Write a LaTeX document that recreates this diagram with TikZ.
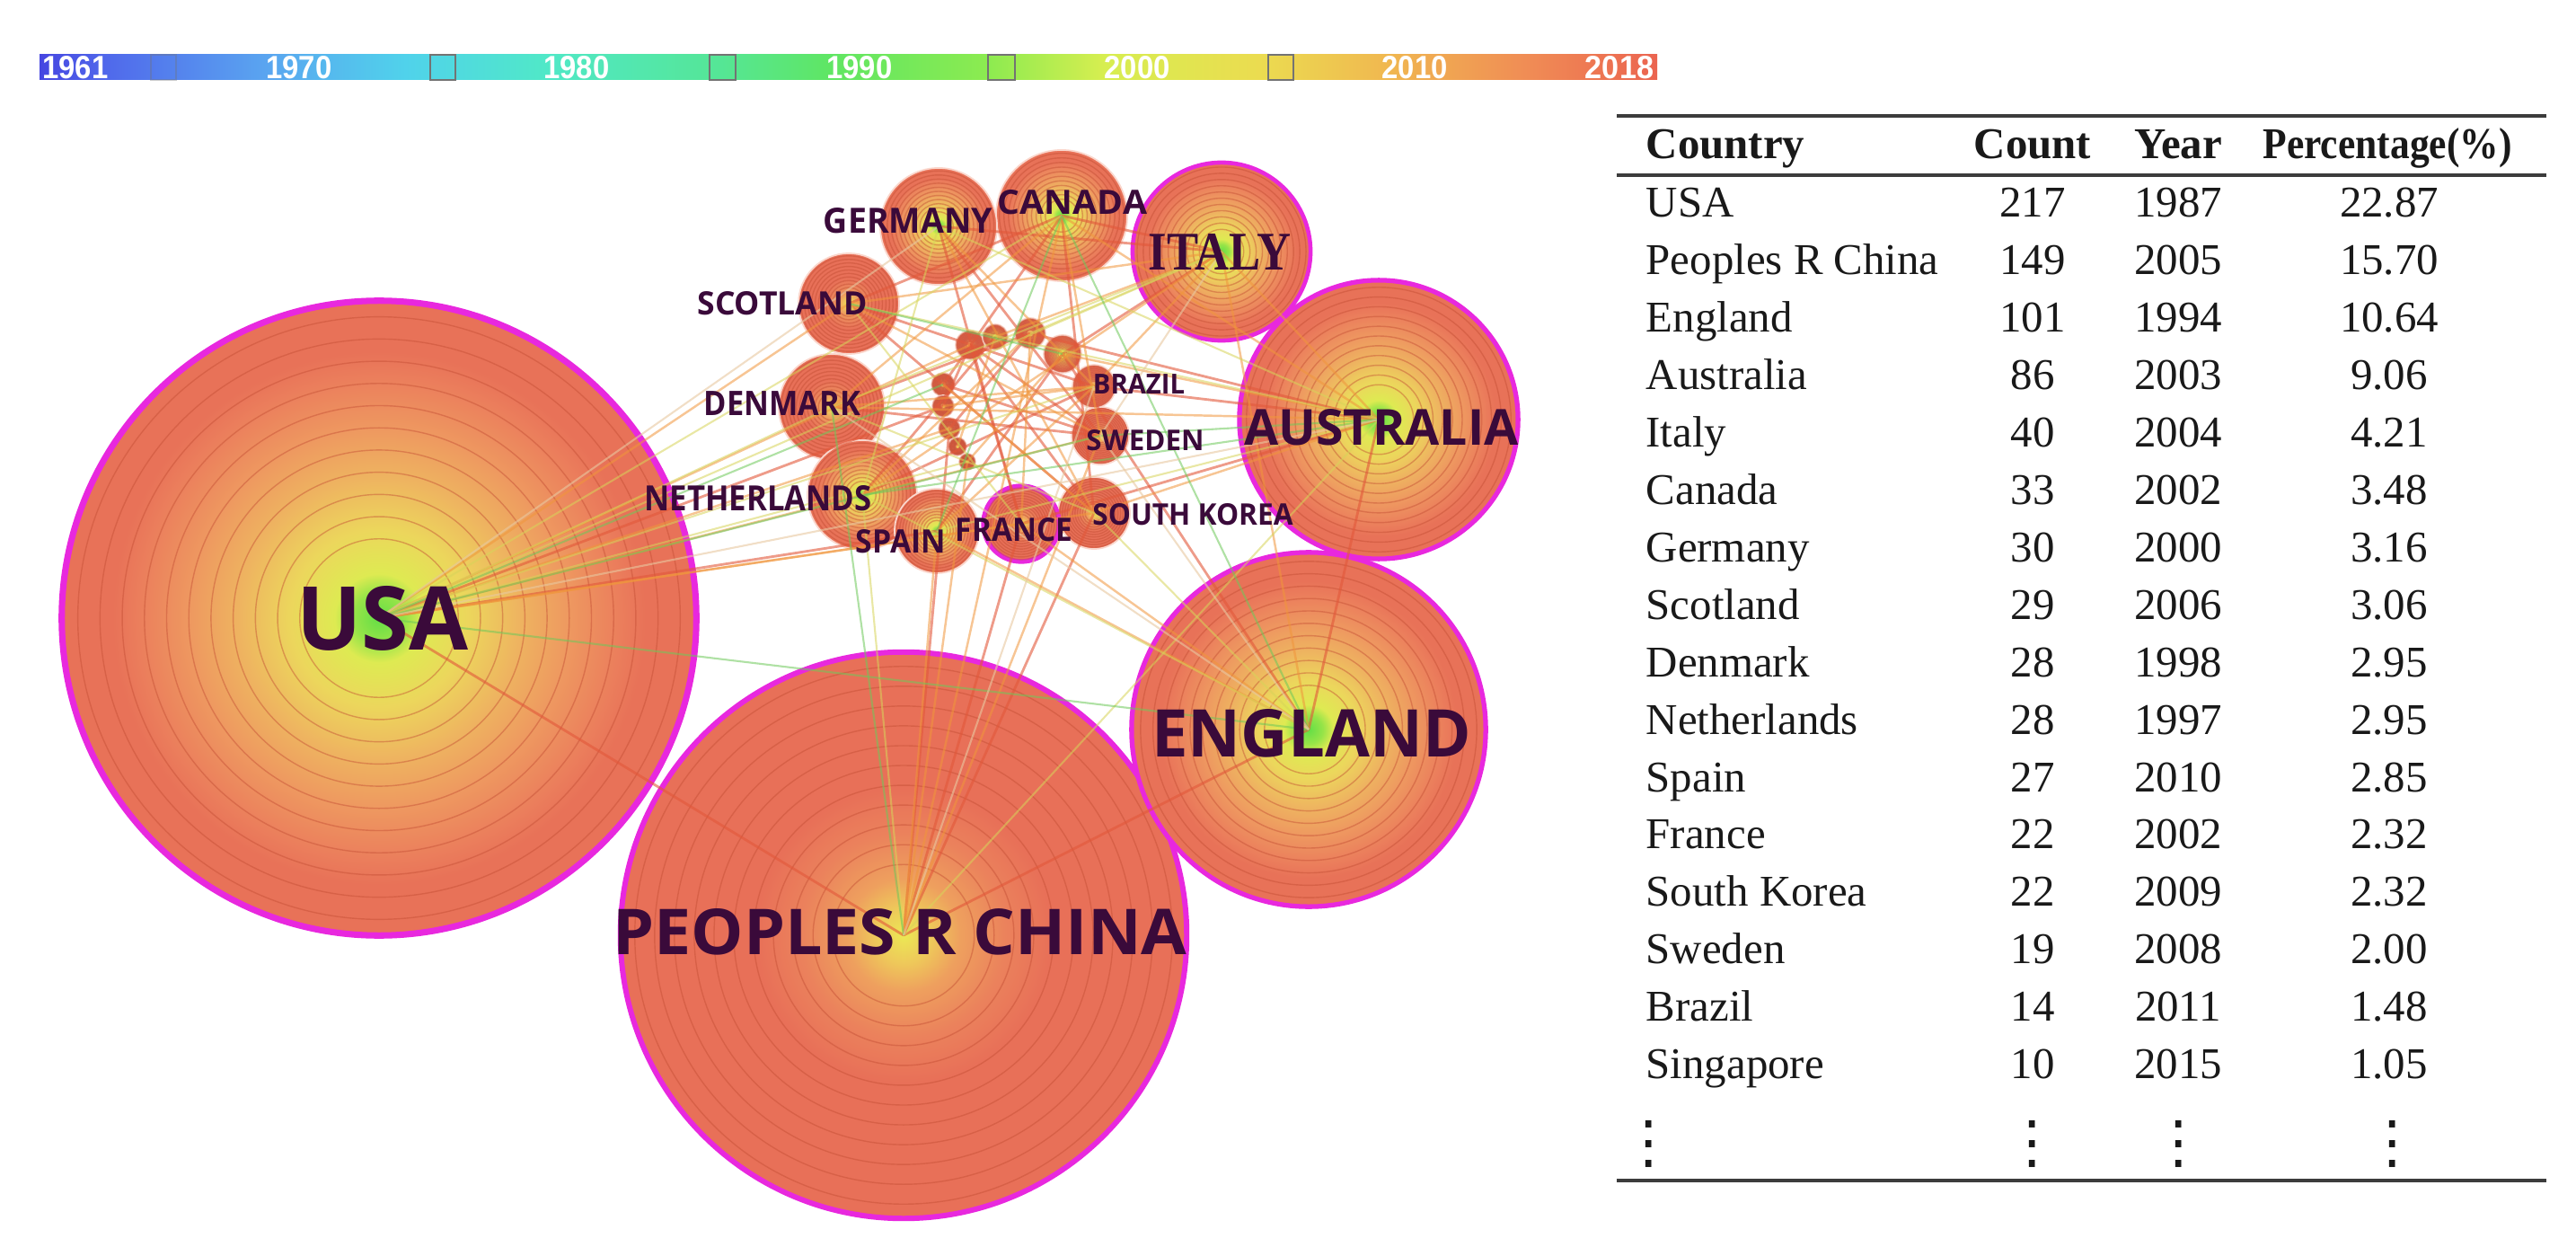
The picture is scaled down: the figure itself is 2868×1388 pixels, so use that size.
\documentclass[tikz,border=0pt]{standalone}
\usepackage{fontspec}
\usepackage{graphicx}
\setmainfont{Liberation Serif}
\newfontfamily\labfont{Open Sans}
\newfontfamily\italyfont{Liberation Serif}
\newfontfamily\barfont{Liberation Sans}
\newfontfamily\dotfont{DejaVu Sans}

\definecolor{labc}{RGB}{58,10,58}
\definecolor{tabc}{RGB}{25,25,25}
\definecolor{rulec}{RGB}{60,60,60}
\definecolor{hubmag}{RGB}{232,40,222}
\definecolor{ringc}{RGB}{196,78,52}
\definecolor{paleedge}{RGB}{250,215,205}
\definecolor{rA0}{RGB}{100,222,70}
\definecolor{rA1}{RGB}{150,228,72}
\definecolor{rA2}{RGB}{222,234,82}
\definecolor{rA3}{RGB}{236,214,92}
\definecolor{rA4}{RGB}{238,180,96}
\definecolor{rA5}{RGB}{238,152,96}
\definecolor{rA6}{RGB}{235,126,92}
\definecolor{rA7}{RGB}{232,114,88}
\definecolor{rB0}{RGB}{236,232,84}
\definecolor{rB1}{RGB}{238,200,90}
\definecolor{rB2}{RGB}{238,160,94}
\definecolor{rB3}{RGB}{235,130,92}
\definecolor{rB4}{RGB}{232,112,88}
\definecolor{edR}{RGB}{226,88,58}
\definecolor{edO}{RGB}{240,150,60}
\definecolor{edY}{RGB}{215,212,90}
\definecolor{edG}{RGB}{110,200,90}
\definecolor{edP}{RGB}{232,200,160}
\definecolor{yb0}{RGB}{70,70,225}
\definecolor{yb1}{RGB}{80,105,235}
\definecolor{yb2}{RGB}{90,165,240}
\definecolor{yb3}{RGB}{80,210,235}
\definecolor{yb4}{RGB}{80,232,200}
\definecolor{yb5}{RGB}{85,230,150}
\definecolor{yb6}{RGB}{95,230,100}
\definecolor{yb7}{RGB}{140,235,80}
\definecolor{yb8}{RGB}{215,238,80}
\definecolor{yb9}{RGB}{235,220,80}
\definecolor{yb10}{RGB}{240,185,80}
\definecolor{yb11}{RGB}{240,140,85}
\definecolor{yb12}{RGB}{235,100,80}

\pgfdeclareradialshading{ringA}{\pgfpointorigin}{color(0bp)=(rA0); color(2bp)=(rA1); color(3.5bp)=(rA2); color(7bp)=(rA3); color(11bp)=(rA4); color(15bp)=(rA5); color(19bp)=(rA6); color(21bp)=(rA7); color(50bp)=(rA7)}
\pgfdeclareradialshading{ringB}{\pgfpointorigin}{color(0bp)=(rB0); color(2.5bp)=(rB1); color(5bp)=(rB2); color(9bp)=(rB3); color(13bp)=(rB4); color(50bp)=(rB4)}
\pgfdeclarehorizontalshading{yearbar}{100bp}{color(0bp)=(yb0); color(25bp)=(yb0); color(27.1bp)=(yb1); color(32bp)=(yb2); color(36.3bp)=(yb3); color(40.6bp)=(yb4); color(46bp)=(yb5); color(49.4bp)=(yb6); color(54.3bp)=(yb7); color(57.9bp)=(yb8); color(62.7bp)=(yb9); color(66.5bp)=(yb10); color(71bp)=(yb11); color(75bp)=(yb12); color(100bp)=(yb12)}

\newcommand\placecountry[5]{%
  \node[cnode,#5,minimum size=#4*0.02cm] (#1) at (#2,#3) {};
  \foreach \f in {0.95,0.88,0.81,0.74,0.67,0.6,0.53,0.46,0.39,0.32,0.25}
    \draw[ringline] (#1.center) circle[radius=\f*#4*0.01cm];
}
\newcommand\clabel[6]{\node[lab] (#1) at (#2,#3) {\resizebox{#4}{#5}{#6}};}
\newcommand\tdots{\resizebox{!}{0.46cm}{\dotfont ⋮}}

\begin{document}
\begin{tikzpicture}[x=0.01cm,y=-0.01cm,
  cnode/.style={circle,inner sep=0pt,outer sep=0pt},
  hubA/.style={shading=ringA,draw=hubmag,line width=#1},
  hubB/.style={shading=ringB,draw=hubmag,line width=#1},
  smallA/.style={shading=ringA,draw=paleedge,line width=0.5pt},
  smallB/.style={shading=ringB,draw=paleedge,line width=0.5pt},
  ringline/.style={draw=ringc,line width=0.4pt,opacity=0.45},
  lab/.style={text=labc,inner sep=0pt,font=\labfont\bfseries},
  ylab/.style={text=white,inner sep=0pt,font=\barfont\bfseries},
  tab/.style={inner sep=0pt,text=tabc,font=\fontsize{13.9}{16}\selectfont},
  rulel/.style={draw=rulec,line width=0.9pt},
  sq/.style={draw=black!55,line width=0.5pt},
  eR/.style={draw=edR,line width=0.8pt,opacity=0.6},
  eO/.style={draw=edO,line width=0.7pt,opacity=0.55},
  eY/.style={draw=edY,line width=0.6pt,opacity=0.55},
  eG/.style={draw=edG,line width=0.6pt,opacity=0.55},
  eP/.style={draw=edP,line width=0.6pt,opacity=0.6}]
\useasboundingbox (0,0) rectangle (2868,1388);

% ---------- year bar ----------
\shade[shading=yearbar] (44,61) rectangle (1845,89);
\draw[sq,opacity=0.35] (168,61) rectangle (196,89);
\draw[sq] (479,61) rectangle (507,89);
\draw[sq] (790,61) rectangle (819,89);
\draw[sq] (1100,61) rectangle (1130,89);
\draw[sq] (1412,61) rectangle (1440,89);
\node[ylab] (y1961) at (84,75) {\resizebox{0.73cm}{0.25cm}{1961}};
\node[ylab] (y1970) at (333,75) {\resizebox{0.73cm}{0.25cm}{1970}};
\node[ylab] (y1980) at (642,75) {\resizebox{0.73cm}{0.25cm}{1980}};
\node[ylab] (y1990) at (957,75) {\resizebox{0.73cm}{0.25cm}{1990}};
\node[ylab] (y2000) at (1266,75) {\resizebox{0.73cm}{0.25cm}{2000}};
\node[ylab] (y2010) at (1575,75) {\resizebox{0.73cm}{0.25cm}{2010}};
\node[ylab] (y2018) at (1803,75) {\resizebox{0.76cm}{0.25cm}{2018}};

% ---------- country circles ----------
\placecountry{usa}{422}{688}{353}{hubA=2pt}
\placecountry{china}{1006}{1041}{315}{hubB=1.7pt}
\placecountry{england}{1457}{812}{197}{hubA=1.5pt}
\placecountry{australia}{1535}{467}{155}{hubA=1.5pt}
\placecountry{italy}{1360}{280}{99}{hubA=1.3pt}
\placecountry{canada}{1182}{240}{73}{smallA}
\placecountry{germany}{1045}{252}{65}{smallA}
\placecountry{scotland}{945}{338}{56}{smallB}
\placecountry{denmark}{926}{453}{59}{smallB}
\placecountry{netherlands}{960}{551}{61}{smallA}
\placecountry{spain}{1043}{591}{47}{smallA}
\placecountry{skorea}{1218}{571}{40}{smallB}
\placecountry{france}{1137}{583}{42}{hubB=1.5pt}
\placecountry{sweden}{1225}{485}{32}{smallB}
\placecountry{brazil}{1218}{430}{24}{smallB}
\placecountry{sa}{1080}{384}{16}{smallB}
\placecountry{sb}{1108}{375}{14}{smallA}
\placecountry{sc}{1147}{371}{17}{smallB}
\placecountry{sd}{1183}{394}{21}{smallA}
\placecountry{se}{1050}{428}{13}{smallB}
\placecountry{sf}{1050}{452}{12}{smallB}
\placecountry{sg}{1057}{477}{12}{smallB}
\placecountry{sh}{1066}{497}{10}{smallB}
\placecountry{si}{1077}{514}{9}{smallB}

% ---------- links ----------
\foreach \a/\b in {usa/spain,usa/china,usa/sf,china/france,china/skorea,china/sg,china/england,
  england/australia,england/sd,australia/brazil,australia/sc,australia/france,italy/germany,
  italy/canada,italy/sd,canada/scotland,canada/se,canada/skorea,germany/sweden,germany/france,
  scotland/brazil,scotland/skorea,denmark/sc,denmark/sweden,netherlands/brazil,netherlands/sb,
  spain/sd,france/sa,skorea/sa,sweden/sa,sweden/se,sa/sf,sc/sg}
  \draw[eR] (\a.center) -- (\b.center);
\foreach \a/\b in {usa/scotland,usa/netherlands,usa/france,usa/sa,usa/sg,usa/skorea,
  china/spain,china/sweden,china/si,china/canada,england/france,england/italy,england/spain,
  australia/italy,australia/canada,australia/sd,australia/denmark,australia/skorea,italy/scotland,
  italy/sb,italy/brazil,italy/netherlands,canada/denmark,canada/sweden,germany/brazil,
  germany/skorea,scotland/sweden,denmark/brazil,netherlands/sc,netherlands/sweden,spain/brazil,
  france/sc,skorea/se,brazil/sf,sb/sh,sd/si}
  \draw[eO] (\a.center) -- (\b.center);
\foreach \a/\b in {usa/denmark,usa/canada,usa/si,usa/brazil,usa/italy,china/netherlands,
  china/australia,england/skorea,england/netherlands,australia/germany,australia/scotland,
  australia/spain,italy/sc,italy/denmark,germany/netherlands,denmark/skorea,france/scotland}
  \draw[eY] (\a.center) -- (\b.center);
\foreach \a/\b in {usa/se,usa/sweden,usa/england,china/denmark,england/canada,
  australia/sweden,australia/netherlands,canada/spain,scotland/sd}
  \draw[eG] (\a.center) -- (\b.center);
\foreach \a/\b in {usa/germany,usa/australia,china/brazil,england/sweden,england/denmark,italy/sweden}
  \draw[eP] (\a.center) -- (\b.center);

% ---------- country labels ----------
\clabel{lusa}{426}{688}{1.91cm}{0.71cm}{USA}
\clabel{lchina}{1002}{1037}{6.39cm}{0.51cm}{PEOPLES R CHINA}
\clabel{lengland}{1460}{816}{3.55cm}{0.53cm}{ENGLAND}
\clabel{laustralia}{1538}{476}{3.05cm}{0.40cm}{AUSTRALIA}
\clabel{litaly}{1358}{280}{1.58cm}{0.40cm}{\italyfont\bfseries ITALY}
\clabel{lcanada}{1194}{225}{1.66cm}{0.27cm}{CANADA}
\clabel{lgermany}{1011}{246}{1.88cm}{0.28cm}{GERMANY}
\clabel{lscotland}{871}{338}{1.89cm}{0.26cm}{SCOTLAND}
\clabel{ldenmark}{871}{449}{1.74cm}{0.27cm}{DENMARK}
\clabel{lnetherlands}{844}{555}{2.53cm}{0.28cm}{NETHERLANDS}
\clabel{lspain}{1003}{603}{1.00cm}{0.26cm}{SPAIN}
\clabel{lfrance}{1129}{590}{1.30cm}{0.26cm}{FRANCE}
\clabel{lskorea}{1328}{573}{2.23cm}{0.24cm}{SOUTH KOREA}
\clabel{lsweden}{1275}{490}{1.31cm}{0.23cm}{SWEDEN}
\clabel{lbrazil}{1268}{427}{1.02cm}{0.22cm}{BRAZIL}

% ---------- table ----------
\draw[rulel] (1800,129) -- (2835,129);
\draw[rulel] (1800,195) -- (2835,195);
\draw[rulel] (1800,1314) -- (2835,1314);
\node[tab,anchor=base west] (hC) at (1832,177) {\bfseries Country};
\node[tab,anchor=base] (hN) at (2263,177) {\bfseries Count};
\node[tab,anchor=base] (hY) at (2425,177) {\bfseries Year};
\node[tab,anchor=base] (hP) at (2658,177) {\scalebox{0.89}[1]{\bfseries Percentage(\%)}};
\foreach \c/\n/\yr/\p [count=\i from 0] in {USA/217/1987/22.87,Peoples R China/149/2005/15.70,
  England/101/1994/10.64,Australia/86/2003/9.06,Italy/40/2004/4.21,Canada/33/2002/3.48,
  Germany/30/2000/3.16,Scotland/29/2006/3.06,Denmark/28/1998/2.95,Netherlands/28/1997/2.95,
  Spain/27/2010/2.85,France/22/2002/2.32,South Korea/22/2009/2.32,Sweden/19/2008/2.00,
  Brazil/14/2011/1.48,Singapore/10/2015/1.05}{
  \node[tab,anchor=base west] (tc\i) at (1832,{242+63.9*\i}) {\c};
  \node[tab,anchor=base] (tn\i) at (2263,{242+63.9*\i}) {\n};
  \node[tab,anchor=base] (ty\i) at (2425,{242+63.9*\i}) {\yr};
  \node[tab,anchor=base] (tp\i) at (2660,{242+63.9*\i}) {\p};
}
\node[tab] (dC) at (1836,1273) {\tdots};
\node[tab] (dN) at (2263,1273) {\tdots};
\node[tab] (dY) at (2426,1273) {\tdots};
\node[tab] (dP) at (2664,1273) {\tdots};
\end{tikzpicture}
\end{document}
